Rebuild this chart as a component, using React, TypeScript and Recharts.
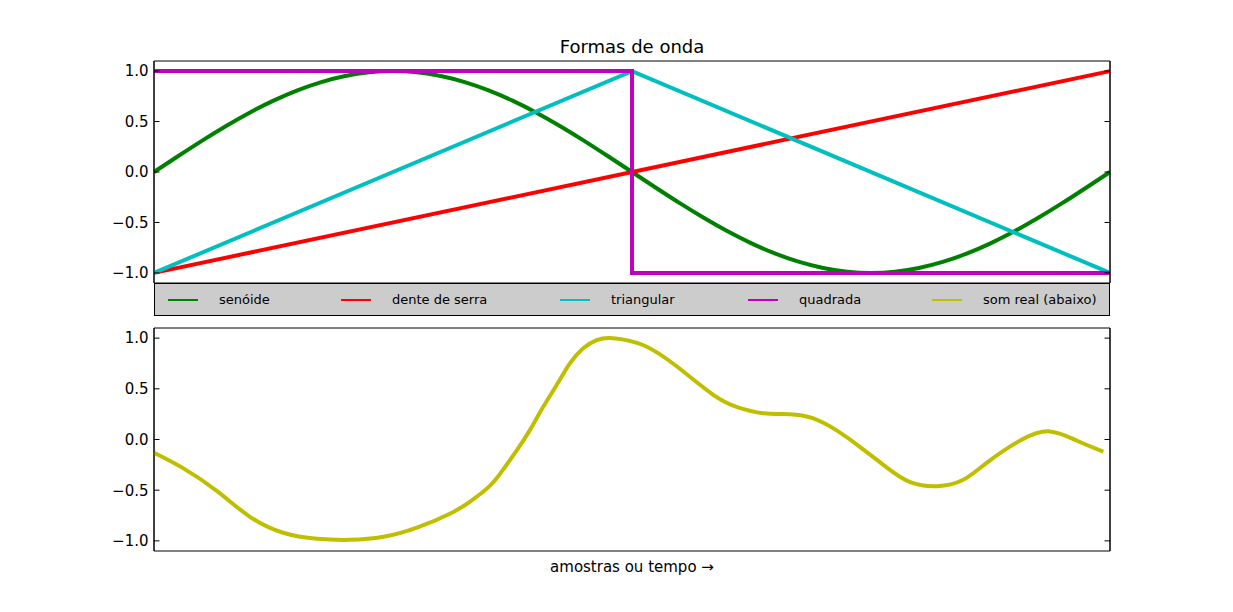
import React from 'react'
import { LineChart, Line, XAxis, YAxis, ReferenceArea } from 'recharts'

// senóide: um período amostrado a cada 1/40
const SENOIDE = [
  0, 0.156, 0.309, 0.454, 0.588, 0.707, 0.809, 0.891, 0.951, 0.988,
  1, 0.988, 0.951, 0.891, 0.809, 0.707, 0.588, 0.454, 0.309, 0.156,
  0, -0.156, -0.309, -0.454, -0.588, -0.707, -0.809, -0.891, -0.951, -0.988,
  -1, -0.988, -0.951, -0.891, -0.809, -0.707, -0.588, -0.454, -0.309, -0.156,
  0
]

const DENTE_T = [0, 1]
const DENTE_V = [-1, 1]

const TRI_T = [0, 0.5, 1]
const TRI_V = [-1, 1, -1]

const QUAD_T = [0, 0.5, 0.5, 1]
const QUAD_V = [1, 1, -1, -1]

const SOM_T = [
  0, 0.03, 0.066, 0.1, 0.135, 0.171, 0.205, 0.24, 0.275, 0.31,
  0.331, 0.351, 0.365, 0.38, 0.393, 0.407, 0.422, 0.435, 0.449, 0.463,
  0.48, 0.512, 0.547, 0.585, 0.61, 0.637, 0.665, 0.689, 0.714, 0.738,
  0.767, 0.791, 0.819, 0.846, 0.871, 0.906, 0.937, 0.965, 0.993
]
const SOM_V = [
  -0.13, -0.28, -0.51, -0.76, -0.92, -0.98, -0.99, -0.96, -0.87, -0.73,
  -0.61, -0.46, -0.3, -0.1, 0.09, 0.32, 0.55, 0.75, 0.9, 0.98,
  1.0, 0.93, 0.72, 0.44, 0.32, 0.26, 0.25, 0.21, 0.09, -0.07,
  -0.28, -0.42, -0.46, -0.4, -0.23, -0.01, 0.08, -0.01, -0.12
]

const Y_TICKS = [-1, -0.5, 0, 0.5, 1]

const LEGEND_LABELS = ['senóide', 'dente de serra', 'triangular', 'quadrada', 'som real (abaixo)']
const COLORS = ['#008000', '#ff0000', '#00bfbf', '#bf00bf', '#bfbf00']

// posição horizontal de cada entrada da legenda (px dentro da caixa)
const LEGEND_X = [13, 186, 405, 593, 777]

const toPoints = (ts: number[], vs: number[]) => ts.map((t, i) => ({ t, v: vs[i] }))

const senoideData = SENOIDE.map((v, i) => ({ t: i / (SENOIDE.length - 1), v }))
const denteData = toPoints(DENTE_T, DENTE_V)
const triData = toPoints(TRI_T, TRI_V)
const quadData = toPoints(QUAD_T, QUAD_V)
const somData = toPoints(SOM_T, SOM_V)

const fmt = (v: number) => (v < 0 ? '\u2212' + Math.abs(v).toFixed(1) : v.toFixed(1))

const tickStyle = { fontSize: 15, fill: '#000' }

function Frame() {
  return [
    <XAxis key="xb" type="number" dataKey="t" domain={[0, 1]} hide />,
    <YAxis key="yl" type="number" domain={[-1.1, 1.1]} ticks={Y_TICKS} tickFormatter={fmt} tick={tickStyle} tickSize={-5.5} tickMargin={11} width={60} axisLine={{ stroke: '#000' }} tickLine={{ stroke: '#000' }} allowDataOverflow />,
    <YAxis key="yr" yAxisId="r" orientation="right" type="number" domain={[-1.1, 1.1]} ticks={Y_TICKS} tickFormatter={() => ''} tickSize={-5.5} width={10} axisLine={{ stroke: '#000' }} tickLine={{ stroke: '#000' }} allowDataOverflow />,
    <ReferenceArea key="box" x1={0} x2={1} y1={-1.1} y2={1.1} fill="none" fillOpacity={0} stroke="#000" strokeWidth={1} strokeOpacity={1} ifOverflow="visible" />
  ]
}

export default function App() {
  const lineProps = { dataKey: 'v', dot: false, strokeWidth: 4, isAnimationActive: false }
  return (
    <div style={{ position: 'absolute', left: 0, top: 0, width: 1233, height: 612, background: '#fff', fontFamily: '"DejaVu Sans", sans-serif', color: '#000' }}>
      <div style={{ position: 'absolute', left: 154, width: 956, top: 36, textAlign: 'center', fontSize: 18, lineHeight: '22px' }}>
        Formas de onda
      </div>

      <div style={{ position: 'absolute', left: 0, top: 0 }}>
        <LineChart width={1233} height={300} margin={{ top: 61, right: 113, bottom: 17, left: 94 }}>
          {Frame()}
          <Line data={senoideData} type="natural" stroke={COLORS[0]} {...lineProps} />
          <Line data={denteData} type="linear" stroke={COLORS[1]} {...lineProps} />
          <Line data={triData} type="linear" stroke={COLORS[2]} {...lineProps} />
          <Line data={quadData} type="linear" stroke={COLORS[3]} {...lineProps} />
        </LineChart>
      </div>

      <div style={{ position: 'absolute', left: 154, top: 283, width: 956, height: 33, boxSizing: 'border-box', background: '#cccccc', border: '1px solid #000' }}>
        {LEGEND_LABELS.map((label, i) => (
          <React.Fragment key={label}>
            <div style={{ position: 'absolute', left: LEGEND_X[i], top: 15, width: 30, height: 2, background: COLORS[i] }} />
            <div style={{ position: 'absolute', left: LEGEND_X[i] + 51, top: 8, fontSize: 13, lineHeight: '16px', whiteSpace: 'nowrap' }}>{label}</div>
          </React.Fragment>
        ))}
      </div>

      <div style={{ position: 'absolute', left: 0, top: 310 }}>
        <LineChart width={1233} height={260} margin={{ top: 18, right: 113, bottom: 19, left: 94 }}>
          {Frame()}
          <Line data={somData} type="natural" stroke={COLORS[4]} {...lineProps} />
        </LineChart>
      </div>

      <div style={{ position: 'absolute', left: 154, width: 956, top: 557, textAlign: 'center', fontSize: 15, lineHeight: '20px' }}>
        amostras ou tempo {'\u2192'}
      </div>
    </div>
  )
}
